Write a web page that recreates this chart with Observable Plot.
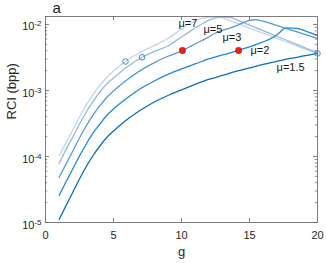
<!DOCTYPE html>
<html>
<head>
<meta charset="utf-8">
<script src="https://cdn.jsdelivr.net/npm/d3@7"></script>
<script src="https://cdn.jsdelivr.net/npm/@observablehq/plot@0.6"></script>
<style>
  html, body { margin: 0; padding: 0; background: #fff; }
</style>
</head>
<body>
<div id="chart"></div>
<script>
// ---- data ----
const g15  = [1,1.5,2,2.5,3,3.5,4,4.5,5,6,7,8,9,10,11,12,13,14,15,16,17,18,19,20];
const rci15 = [1.11e-5,1.784e-5,2.848e-5,4.56e-5,7.06e-5,1.035e-4,1.442e-4,1.941e-4,2.432e-4,3.636e-4,5.06e-4,6.70e-4,8.40e-4,1.018e-3,1.233e-3,1.468e-3,1.688e-3,1.941e-3,2.193e-3,2.477e-3,2.750e-3,3.053e-3,3.332e-3,3.636e-3];

const g2  = [1,1.5,2,2.5,3,3.5,4,4.5,5,6,7,8,9,10,11,12,13,14,15,16,16.5,17,17.3,17.5,17.8,18.5,19,19.5,20];
const rci2 = [2.565e-5,4.108e-5,6.465e-5,1.018e-4,1.547e-4,2.270e-4,3.107e-4,4.179e-4,5.244e-4,7.697e-4,1.072e-3,1.393e-3,1.748e-3,2.118e-3,2.521e-3,3.001e-3,3.451e-3,3.939e-3,4.560e-3,5.430e-3,6.031e-3,6.933e-3,7.833e-3,8.547e-3,8.851e-3,8.698e-3,8.111e-3,7.431e-3,6.813e-3];

const g3  = [1,1.5,2,2.5,3,3.5,4,4.5,5,6,7,8,9,10,10.5,11,11.5,12,12.5,13,13.5,14,14.5,15,15.3,15.6,16,17,18,19,20];
const rci3 = [4.806e-5,7.644e-5,1.203e-4,1.907e-4,2.919e-4,4.253e-4,5.885e-4,7.831e-4,9.826e-4,1.458e-3,2.016e-3,2.647e-3,3.297e-3,3.966e-3,4.481e-3,5.063e-3,5.721e-3,6.465e-3,7.431e-3,8.111e-3,8.698e-3,9.490e-3,1.054e-2,1.150e-2,1.178e-2,1.170e-2,1.122e-2,9.656e-3,8.312e-3,7.129e-3,6.136e-3];

const g5  = [1,1.5,2,2.5,3,3.5,4,4.5,5,6,7,8,9,10,10.5,11,11.5,12,12.5,13,13.6,14,15,16,17,18,19,20];
const rci5 = [7.832e-5,1.259e-4,1.975e-4,3.107e-4,4.722e-4,6.813e-4,9.490e-4,1.254e-3,1.547e-3,2.270e-3,3.107e-3,3.898e-3,4.722e-3,6.465e-3,7.563e-3,8.851e-3,1.018e-2,1.150e-2,1.263e-2,1.294e-2,1.285e-2,1.191e-2,9.793e-3,8.055e-3,6.625e-3,5.469e-3,4.498e-3,3.700e-3];

const g7  = [1,1.5,2,2.5,3,3.5,4,4.5,5,6,7,8,9,10,10.5,11,11.5,12,12.6,13,14,15,16,17,18,19,20];
const rci7 = [1.035e-4,1.607e-4,2.520e-4,3.967e-4,6.031e-4,8.698e-4,1.191e-3,1.574e-3,1.975e-3,2.878e-3,3.831e-3,4.806e-3,6.136e-3,8.547e-3,1.0e-2,1.130e-2,1.233e-2,1.290e-2,1.299e-2,1.263e-2,1.057e-2,8.820e-3,7.381e-3,6.157e-3,5.153e-3,4.313e-3,3.598e-3];

const seriesMu = ["7", "5", "3", "2", "1.5"];
const labelText = ["μ=7", "μ=5", "μ=3", "μ=2", "μ=1.5"];
const labelG   = [9.78, 11.62, 13.01, 15.07, 16.99];
const labelRCI = [1.02e-2, 8.26e-3, 6.35e-3, 4.04e-3, 2.23e-3];

const openG   = [5.88, 7.1, 20];
const openRCI = [2.75e-3, 3.18e-3, 3.636e-3];
const redG    = [10.07, 14.2];
const redRCI  = [4.04e-3, 4.04e-3];

const xTicks = [0, 5, 10, 15, 20];
const yTicks = [1e-5, 1e-4, 1e-3, 1e-2];
const yTickLabels = ["10^-5", "10^-4", "10^-3", "10^-2"];
const yMax = 0.0132;

// ---- build ----
const colors = {"7": "#c3d5e8", "5": "#95b9dc", "3": "#5798d3", "2": "#2087db", "1.5": "#0a6ebd"};
const seriesG = {"7": g7, "5": g5, "3": g3, "2": g2, "1.5": g15};
const seriesV = {"7": rci7, "5": rci5, "3": rci3, "2": rci2, "1.5": rci15};

const lineMarks = seriesMu.map(mu => Plot.line(
  seriesG[mu].map((g, i) => ({g, rci: seriesV[mu][i]})),
  {x: "g", y: "rci", stroke: colors[mu], strokeWidth: 1.3, curve: "monotone-x"}
));

const yMinor = [];
yTicks.forEach(d => { for (let k = 2; k <= 9; k++) if (k * d <= yMax) yMinor.push(k * d); });

const W = 326, H = 263, mL = 45, mR = 9, mT = 16, mB = 41;
const fw = W - mL - mR, fh = H - mT - mB;
const axisColor = "#5e5e5e";

const chart = Plot.plot({
  width: W, height: H,
  marginLeft: mL, marginRight: mR, marginTop: mT, marginBottom: mB,
  style: {fontFamily: "'Liberation Sans', Arial, sans-serif", fontSize: "11px", background: "#fff", color: "#262626"},
  x: {domain: [0, 20]},
  y: {type: "log", domain: [1e-5, yMax]},
  marks: [
    ...lineMarks,
    Plot.frame({stroke: axisColor, strokeWidth: 0.8}),
    // inward ticks (MATLAB box style)
    Plot.tickY(yTicks, {y: d => d, insetRight: fw - 4, stroke: axisColor, strokeWidth: 0.8}),
    Plot.tickY(yTicks, {y: d => d, insetLeft: fw - 4, stroke: axisColor, strokeWidth: 0.8}),
    Plot.tickY(yMinor, {y: d => d, insetRight: fw - 2.2, stroke: axisColor, strokeWidth: 0.7}),
    Plot.tickY(yMinor, {y: d => d, insetLeft: fw - 2.2, stroke: axisColor, strokeWidth: 0.7}),
    Plot.tickX(xTicks.slice(1, -1), {x: d => d, insetTop: fh - 4, stroke: axisColor, strokeWidth: 0.8}),
    Plot.tickX(xTicks.slice(1, -1), {x: d => d, insetBottom: fh - 4, stroke: axisColor, strokeWidth: 0.8}),
    Plot.axisY({ticks: yTicks, tickSize: 0, tickPadding: 4, dy: 2.5, fontSize: 11,
      tickFormat: d => yTickLabels[yTicks.indexOf(d)], label: null}),
    Plot.axisX({ticks: xTicks, tickSize: 0, tickPadding: 9, fontSize: 11, label: null}),
    Plot.dot(openG.map((g, i) => ({g, rci: openRCI[i]})),
      {x: "g", y: "rci", r: 2.8, stroke: "#3b8ad2", fill: "none", strokeWidth: 1}),
    Plot.dot(redG.map((g, i) => ({g, rci: redRCI[i]})),
      {x: "g", y: "rci", r: 3.2, fill: "#e3231f", stroke: "#b8191b", strokeWidth: 0.6}),
    Plot.text(labelText.map((t, i) => ({t, g: labelG[i], rci: labelRCI[i]})),
      {x: "g", y: "rci", text: "t", textAnchor: "start", fontSize: 11, fill: "#1a1a1a", ariaLabel: "mu-label"}),
    Plot.text(["a"], {frameAnchor: "top-left", textAnchor: "start", lineAnchor: "bottom", dx: 7, dy: -4, fontSize: 15, fill: "#1a1a1a"}),
    Plot.text(["g"], {frameAnchor: "bottom", lineAnchor: "bottom", dy: 33, fontSize: 13, fill: "#262626"}),
    Plot.text(["RCI (bpp)"], {frameAnchor: "left", rotate: -90, lineAnchor: "bottom", dx: -30, fontSize: 13, fill: "#262626"})
  ]
});

// superscript exponents on the log tick labels
d3.select(chart).selectAll('g[aria-label="y-axis tick label"] text').each(function() {
  const s = this.textContent;
  const [base, exp] = s.split("^");
  const t = d3.select(this);
  t.text(null);
  t.append("tspan").text(base);
  t.append("tspan").attr("dy", "-0.5em").attr("font-size", "8px").text(exp);
});
// italic mu in the curve labels
d3.select(chart).selectAll('g[aria-label="mu-label"] text').each(function() {
  const s = this.textContent;
  const t = d3.select(this);
  t.text(null);
  t.append("tspan").attr("font-style", "italic").text(s.slice(0, 1));
  t.append("tspan").text(s.slice(1));
});

document.getElementById("chart").appendChild(chart);
</script>
</body>
</html>
